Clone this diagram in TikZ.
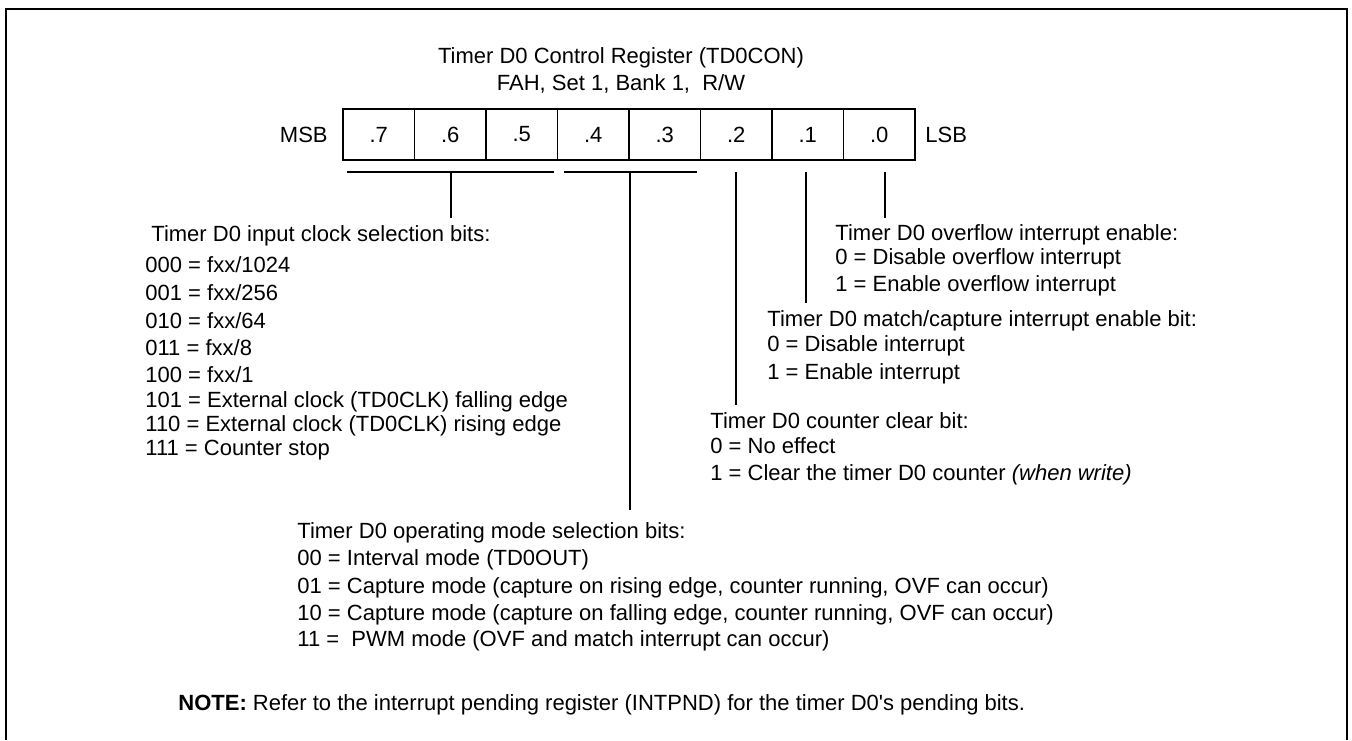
\documentclass[tikz,border=0pt]{standalone}
\usepackage{fontspec}
\setmainfont{Liberation Sans}
\begin{document}
\begin{tikzpicture}[x=0.5pt,y=-0.5pt,
  txt/.style={anchor=base west, inner sep=0pt, font=\fontsize{11}{13}\selectfont},
  ctr/.style={inner sep=0pt, font=\fontsize{11}{13}\selectfont},
  cell/.style={draw, line width=0.7pt, minimum width=35.75pt, minimum height=25.5pt, inner sep=0pt, font=\fontsize{11}{13}\selectfont},
  brk/.style={line width=0.9pt},
  stem/.style={line width=0.55pt},
  frame/.style={line width=1.25pt}]
\useasboundingbox (0,0) rectangle (1352,740);
% outer frame (open at the bottom)
\coordinate (fbl) at (6,740);
\coordinate (ftl) at (6,9);
\coordinate (ftr) at (1347,9);
\coordinate (fbr) at (1347,740);
\draw[frame] (fbl) -- (ftl) -- (ftr) -- (fbr);
% title
\node[ctr] (title1) at (621,58) {Timer D0 Control Register (TD0CON)};
\node[ctr] (title2) at (621,84) {FAH, Set 1, Bank 1,\ \ R/W};
% register cells
\foreach \b [count=\i from 0] in {7,6,5,4,3,2,1,0}
  \node[cell] (c\b) at ({378.75+71.5*\i},134.5) {.\b};
\node[ctr, anchor=east] (msb) at (328,134.5) {MSB};
\node[ctr, anchor=west] (lsb) at (925,134.5) {LSB};
% brackets
\coordinate (b1l) at (347,172);
\coordinate (b1r) at (554,172);
\coordinate (b2l) at (564,172);
\coordinate (b2r) at (697,172);
\draw[brk] (b1l) -- (b1r);
\draw[brk] (b2l) -- (b2r);
% stems
\coordinate (s1t) at (451,172); \coordinate (s1b) at (451,218);
\coordinate (s2t) at (630,172); \coordinate (s2b) at (630,510);
\coordinate (s3t) at (736,172); \coordinate (s3b) at (736,405);
\coordinate (s4t) at (806,172); \coordinate (s4b) at (806,303);
\coordinate (s5t) at (885,172); \coordinate (s5b) at (885,218);
\draw[stem] (s1t) -- (s1b);
\draw[stem] (s2t) -- (s2b);
\draw[stem] (s3t) -- (s3b);
\draw[stem] (s4t) -- (s4b);
\draw[stem] (s5t) -- (s5b);
% clock selection
\node[txt] (clkh) at (151,241) {Timer D0 input clock selection bits:};
\node[txt] (clk0) at (145,272) {000 = fxx/1024};
\node[txt] (clk1) at (145,300) {001 = fxx/256};
\node[txt] (clk2) at (145,328) {010 = fxx/64};
\node[txt] (clk3) at (145,355) {011 = fxx/8};
\node[txt] (clk4) at (145,382) {100 = fxx/1};
\node[txt] (clk5) at (145,407) {101 = External clock (TD0CLK) falling edge};
\node[txt] (clk6) at (145,431) {110 = External clock (TD0CLK) rising edge};
\node[txt] (clk7) at (145,455) {111 = Counter stop};
% operating mode
\node[txt] (modh) at (297,538) {Timer D0 operating mode selection bits:};
\node[txt] (mod0) at (297,565) {00 = Interval mode (TD0OUT)};
\node[txt] (mod1) at (297,593) {01 = Capture mode (capture on rising edge, counter running, OVF can occur)};
\node[txt] (mod2) at (297,620) {10 = Capture mode (capture on falling edge, counter running, OVF can occur)};
\node[txt] (mod3) at (297,646) {11 =\ \ PWM mode (OVF and match interrupt can occur)};
% note
\node[txt] (note) at (178,710) {\textbf{NOTE:} Refer to the interrupt pending register (INTPND) for the timer D0\textquotesingle s pending bits.};
% counter clear
\node[txt] (clrh) at (710,428) {Timer D0 counter clear bit:};
\node[txt] (clr0) at (710,453) {0 = No effect};
\node[txt] (clr1) at (710,480) {1 = Clear the timer D0 counter \textit{(when write)}};
% match/capture
\node[txt] (mch) at (767,326) {Timer D0 match/capture interrupt enable bit:};
\node[txt] (mc0) at (767,351) {0 = Disable interrupt};
\node[txt] (mc1) at (767,379) {1 = Enable interrupt};
% overflow
\node[txt] (ovh) at (835,240) {Timer D0 overflow interrupt enable:};
\node[txt] (ov0) at (835,264) {0 = Disable overflow interrupt};
\node[txt] (ov1) at (835,291) {1 = Enable overflow interrupt};
\end{tikzpicture}
\end{document}
